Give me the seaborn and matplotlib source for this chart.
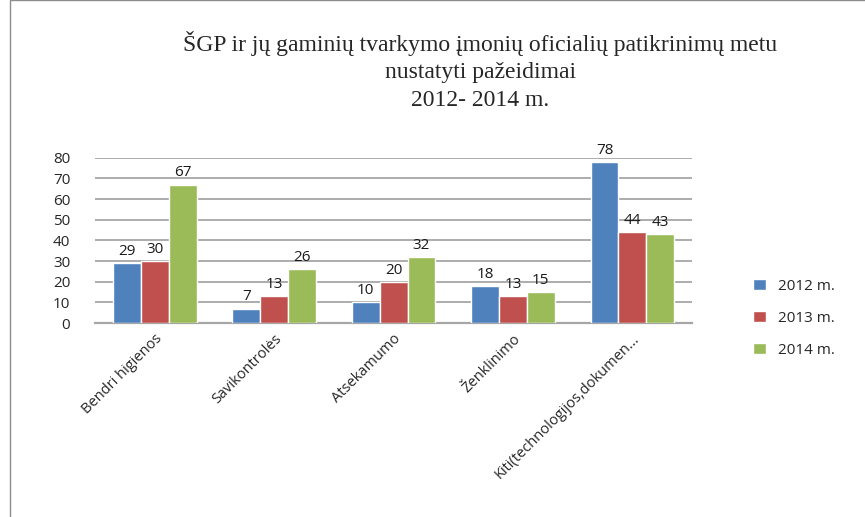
import pandas as pd
import numpy as np
import seaborn as sns
import matplotlib.pyplot as plt
from matplotlib.patches import Rectangle

# values
categories = ["Bendri higienos", "Savikontrolės", "Atsekamumo", "Ženklinimo",
              "Kiti(technologijos,dokumen..."]
years = ["2012 m.", "2013 m.", "2014 m."]
v2012 = [29, 7, 10, 18, 78]
v2013 = [30, 13, 20, 13, 44]
v2014 = [67, 26, 32, 15, 43]
yticks = [0, 10, 20, 30, 40, 50, 60, 70, 80]

df = pd.DataFrame({"Kategorija": categories, years[0]: v2012, years[1]: v2013, years[2]: v2014})
plotting_df = df.melt(id_vars="Kategorija", var_name="Metai", value_name="Pažeidimai")

sns.set_style("white")
plt.rcParams['font.family'] = ['Open Sans', 'DejaVu Sans']

fig = plt.figure(figsize=(8.65, 5.17), dpi=100)
ax = fig.add_axes([0.11, 0.375, 0.69, 0.32])

palette = ["#4F81BD", "#C0504D", "#9BBB59"]
sns.barplot(data=plotting_df, x="Kategorija", y="Pažeidimai", hue="Metai",
            palette=palette, ax=ax, width=0.7, saturation=1, zorder=3)

for c in ax.containers:
    ax.bar_label(c, fontsize=11, padding=3, color="#1a1a1a")

ax.set_ylim(0, 80)
ax.set_yticks(yticks)
ax.tick_params(axis="y", labelsize=11, length=0, pad=18)
ax.tick_params(axis="x", length=0, labelsize=10.5, pad=6)
ax.grid(axis="y", color="#A6A6A6", linewidth=1.3, zorder=0)
ax.set_xlabel("")
ax.set_ylabel("")
plt.setp(ax.get_xticklabels(), rotation=45, ha="right", rotation_mode="anchor")
for s in ["top", "right", "left"]:
    ax.spines[s].set_visible(False)
ax.spines["bottom"].set_color("#A6A6A6")
ax.spines["bottom"].set_linewidth(1.6)

ax.legend(loc="center left", bbox_to_anchor=(1.08, 0.03), frameon=False,
          fontsize=11, handlelength=0.8, handleheight=0.8, labelspacing=1.1)

fig.text(0.555, 0.94, "ŠGP ir jų gaminių tvarkymo įmonių oficialių patikrinimų metu\nnustatyti pažeidimai\n2012- 2014 m.",
         ha="center", va="top", fontsize=17, family="Liberation Serif", linespacing=1.4)

fig.patches.append(Rectangle((0.012, -0.01), 1.0, 1.01, transform=fig.transFigure,
                             fill=False, edgecolor="#8C8C8C", linewidth=1))

fig.savefig("out.png", dpi=100)
